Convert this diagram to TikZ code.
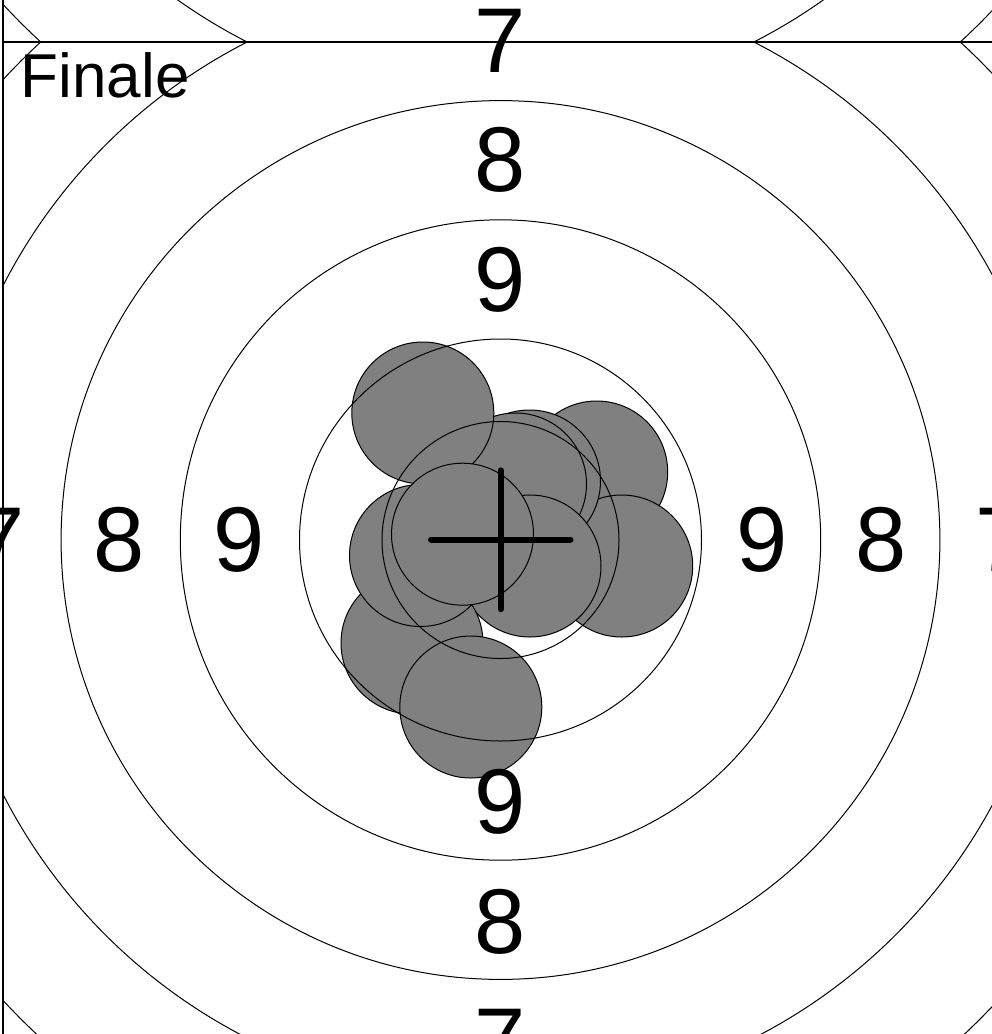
\documentclass[tikz,border=0pt]{standalone}
\usepackage{fontspec}
\setmainfont{Liberation Sans}

\begin{document}
\begin{tikzpicture}[
    x=1pt, y=-1pt,
    ring/.style={draw, line width=1pt},
    shot/.style={draw, line width=1pt, fill=gray},
    panel/.style={draw, line width=1.3pt},
    num/.style={font=\fontsize{92}{92}\selectfont, inner sep=0pt},
    aim/.style={line width=6pt, line cap=round}
]
  % page
  \useasboundingbox (0,0) rectangle (992,1034);
  \clip (0,0) rectangle (992,1034);
  \fill[white] (0,0) rectangle (992,1034);

  \coordinate (ctr) at (500.5,540);
  \coordinate (upctr) at (500.5,-456);

  % target of the panel above
  \begin{scope}
    \clip (3,-954) rectangle (998,42);
    \draw[ring] (upctr) circle[radius=439.4pt];
    \draw[ring] (upctr) circle[radius=558.6pt];
    \draw[ring] (upctr) circle[radius=677.8pt];
  \end{scope}

  \begin{scope}
    \clip (3,42) rectangle (998,1038);
    % shots
    \draw[shot] (596.7,472) circle[radius=71pt];
    \draw[shot] (621.7,566) circle[radius=71pt];
    \draw[shot] (529.5,481) circle[radius=71pt];
    \draw[shot] (515.5,484) circle[radius=71pt];
    \draw[shot] (530,566) circle[radius=71pt];
    \draw[shot] (422.8,413) circle[radius=71pt];
    \draw[shot] (412,643) circle[radius=71pt];
    \draw[shot] (420.5,555.5) circle[radius=71pt];
    \draw[shot] (470.8,707) circle[radius=71pt];
    \draw[shot] (462.5,534.2) circle[radius=71pt];
    % rings
    \draw[ring] (ctr) circle[radius=118.5pt];
    \draw[ring] (ctr) circle[radius=201pt];
    \draw[ring] (ctr) circle[radius=320.2pt];
    \draw[ring] (ctr) circle[radius=439.4pt];
    \draw[ring] (ctr) circle[radius=558.6pt];
    \draw[ring] (ctr) circle[radius=677.8pt];
  \end{scope}

  % panel borders
  \draw[panel] (3,-954) rectangle (998,42);
  \draw[panel] (3,42) rectangle (998,1038);

  % ring numbers
  \node[num] (top9) at (500.5,279.5) {9};
  \node[num] (top8) at (500.5,159.5) {8};
  \node[num] (top7) at (500.5,41) {7};
  \node[num] (bot9) at (500.5,801.5) {9};
  \node[num] (bot8) at (500.5,921.5) {8};
  \node[num] (bot7) at (500.5,1041) {7};
  \node[num] (left9) at (239,540) {9};
  \node[num] (left8) at (119,540) {8};
  \node[num] (left7) at (-0.5,540) {7};
  \node[num] (right9) at (762,540) {9};
  \node[num] (right8) at (881,540) {8};
  \node[num] (right7) at (1001.5,540) {7};

  \node[font=\fontsize{62}{62}\selectfont, anchor=base west, inner sep=0pt] (title) at (20.5,97) {Finale};

  % aiming cross
  \draw[aim] (431,539.5) -- (570.5,539.5);
  \draw[aim] (500.7,470.3) -- (500.7,609.2);
\end{tikzpicture}
\end{document}
